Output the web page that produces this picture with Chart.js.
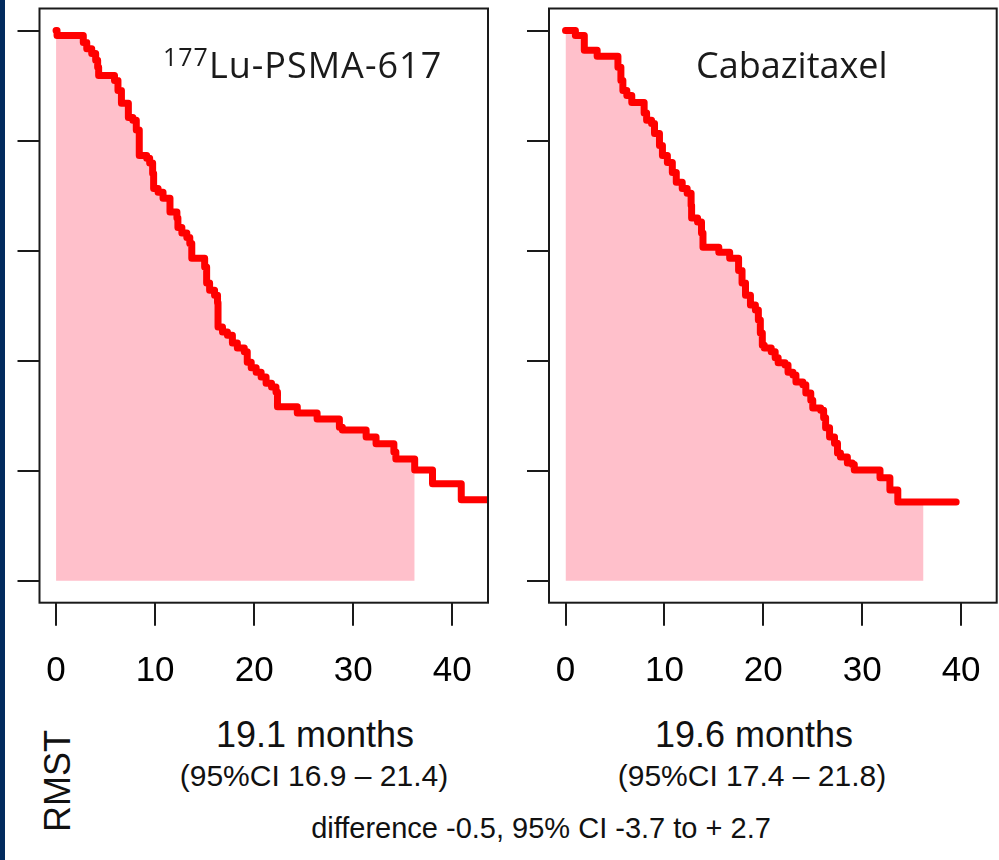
<!DOCTYPE html>
<html>
<head>
<meta charset="utf-8">
<script src="https://cdn.jsdelivr.net/npm/chart.js@4.4.0/dist/chart.umd.min.js"></script>
<style>
  body { margin: 0; background: #fff; }
  #wrap { position: relative; width: 999px; height: 860px; overflow: hidden; background: #fff; }
  .strip { position: absolute; left: 0; top: 0; width: 5px; height: 860px; background: #022b5e; }
  canvas { position: absolute; top: 0; }
  .txt { position: absolute; font-family: "Liberation Sans", Arial, sans-serif; color: #111; white-space: nowrap; line-height: 1; transform: translate(-50%, -50%); }
  .ttl { position: absolute; font-family: "Open Sans", sans-serif; font-size: 36px; color: #1a1a1a; line-height: 1; white-space: nowrap; }
  .ttl sup { font-size: 25px; position: relative; top: -12px; vertical-align: baseline; }
</style>
</head>
<body>
<div id="wrap">
  <div class="strip"></div>
  <canvas id="luChart" width="500" height="700" style="left:0"></canvas>
  <canvas id="cabChart" width="520" height="700" style="left:500px"></canvas>

  <div class="ttl" style="left:163px; top:47px; letter-spacing:1px"><sup>177</sup>Lu-PSMA-617</div>
  <div class="ttl" style="left:696px; top:47px">Cabazitaxel</div>

  <div class="txt" style="left:58px; top:781px; font-size:36px; transform:translate(-50%,-50%) rotate(-90deg)">RMST</div>
  <div class="txt" style="left:315px; top:735px; font-size:36px">19.1 months</div>
  <div class="txt" style="left:314px; top:776px; font-size:30px">(95%CI 16.9 – 21.4)</div>
  <div class="txt" style="left:754px; top:735px; font-size:36px">19.6 months</div>
  <div class="txt" style="left:752px; top:776px; font-size:30px">(95%CI 17.4 – 21.8)</div>
  <div class="txt" style="left:541px; top:828px; font-size:29px">difference -0.5, 95% CI -3.7 to + 2.7</div>
</div>

<script>
// Kaplan-Meier steps (months, survival after the drop)
const luTime = [0, 0.1, 2.75, 3.1, 3.6, 4.0, 4.2, 4.3, 5.9, 6.25, 6.6, 7.3, 7.75, 8.1, 8.4,
  9.15, 9.45, 9.75, 9.85, 10.3, 10.8, 11.5, 12.2, 12.3, 12.7, 13.2, 13.5, 13.7,
  15.0, 15.2, 15.5, 16.0, 16.3, 16.35, 16.8, 17.3, 17.8, 18.3, 19.0, 19.3, 19.7,
  20.2, 20.7, 21.2, 21.75, 22.2, 22.35, 24.35, 26.35, 28.6, 28.9, 31.3, 32.3,
  34.1, 34.3, 36.2, 38.0, 40.9, 44];
const luSurv = [1, 0.991, 0.978, 0.967, 0.958, 0.946, 0.933, 0.918, 0.909, 0.891, 0.868, 0.842, 0.837, 0.819, 0.773,
  0.768, 0.759, 0.740, 0.713, 0.706, 0.695, 0.670, 0.659, 0.642, 0.632, 0.624, 0.613, 0.586,
  0.570, 0.541, 0.528, 0.519, 0.505, 0.461, 0.452, 0.446, 0.432, 0.423, 0.416, 0.397, 0.387,
  0.379, 0.370, 0.359, 0.352, 0.343, 0.316, 0.305, 0.294, 0.279, 0.274, 0.261, 0.249,
  0.234, 0.221, 0.201, 0.176, 0.147, 0.147];

const cabTime = [0, 1.0, 1.9, 3.2, 5.3, 5.6, 5.8, 6.2, 6.7, 7.95,
  8.2, 8.7, 9.0, 9.5, 9.8, 10.3, 10.8, 11.2, 11.8, 12.3,
  12.7, 12.75, 13.35, 13.75, 13.9, 15.5, 16.6, 17.5, 17.85, 18.2,
  18.7, 19.2, 19.5, 19.7, 19.9, 20.1, 20.8, 21.2, 21.5, 22.2,
  22.5, 23.0, 23.3, 24.0, 24.3, 24.8, 25.0, 25.8, 26.1, 26.3,
  26.7, 27.2, 27.5, 27.8, 28.5, 29.0, 29.2, 31.8, 32.8, 33.6, 39.5];
const cabSurv = [1, 0.991, 0.964, 0.953, 0.933, 0.909, 0.891, 0.882, 0.869, 0.85,
  0.837, 0.831, 0.813, 0.791, 0.773, 0.760, 0.742, 0.724, 0.713, 0.704,
  0.682, 0.659, 0.652, 0.632, 0.606, 0.597, 0.586, 0.564, 0.541, 0.519,
  0.501, 0.492, 0.474, 0.450, 0.428, 0.423, 0.416, 0.405, 0.396, 0.392,
  0.379, 0.374, 0.361, 0.356, 0.341, 0.328, 0.314, 0.310, 0.296, 0.278,
  0.261, 0.250, 0.232, 0.225, 0.214, 0.211, 0.201, 0.187, 0.165, 0.143, 0.143];

const rmstTau = 36.2;           // restriction time of the shaded area
const xTicks = [0, 10, 20, 30, 40];
const yTicks = [0, 0.2, 0.4, 0.6, 0.8, 1.0];

// box round the plot region, like R's box()
const boxPlugin = {
    id: 'box',
    afterDraw(chart) {
        const a = chart.chartArea;
        const c = chart.ctx;
        c.save();
        c.strokeStyle = '#1a1a1a';
        c.lineWidth = 2;
        c.strokeRect(a.left, a.top, a.right - a.left, a.bottom - a.top);
        c.restore();
    }
};

function makePanel(id, times, surv, axisWidth, padRight) {
    const curve = times.map((t, i) => ({ x: t, y: surv[i] }));
    const area = curve.filter(p => p.x < rmstTau);
    area.push({ x: rmstTau, y: area[area.length - 1].y });

    return new Chart(document.getElementById(id), {
        type: 'line',
        data: {
            datasets: [
                {
                    data: curve,
                    stepped: true,
                    borderColor: '#ff0000',
                    borderWidth: 7,
                    borderCapStyle: 'round',
                    borderJoinStyle: 'round',
                    pointRadius: 0,
                    fill: false,
                    clip: 0,
                    order: 0
                },
                {
                    data: area,
                    stepped: true,
                    borderWidth: 0,
                    borderColor: 'rgba(0,0,0,0)',
                    backgroundColor: '#ffc0cb',
                    pointRadius: 0,
                    fill: 'origin',
                    order: 1
                }
            ]
        },
        options: {
            responsive: false,
            animation: false,
            layout: { padding: { top: 8.5, right: padRight, left: 0, bottom: 0 } },
            plugins: { legend: { display: false }, tooltip: { enabled: false } },
            scales: {
                x: {
                    type: 'linear',
                    min: -1.67,
                    max: 43.6,
                    afterBuildTicks: s => { s.ticks = xTicks.map(v => ({ value: v })); },
                    afterFit: s => { s.height = 97.3; },
                    border: { display: false },
                    grid: { drawOnChartArea: false, tickLength: 23, lineWidth: 2, color: '#1a1a1a' },
                    ticks: {
                        color: '#000',
                        padding: 25,
                        maxRotation: 0,
                        autoSkip: false,
                        font: { family: '"Liberation Sans", Arial, sans-serif', size: 35 }
                    }
                },
                y: {
                    min: -0.04,
                    max: 1.04,
                    afterBuildTicks: s => { s.ticks = yTicks.map(v => ({ value: v })); },
                    afterFit: s => { s.width = axisWidth; },
                    border: { display: false },
                    grid: { drawOnChartArea: false, tickLength: 22, lineWidth: 2, color: '#1a1a1a' },
                    ticks: { display: false }
                }
            }
        },
        plugins: [boxPlugin]
    });
}

makePanel('luChart', luTime, luSurv, 39.5, 12);
makePanel('cabChart', cabTime, cabSurv, 49, 23.3);
</script>
</body>
</html>
